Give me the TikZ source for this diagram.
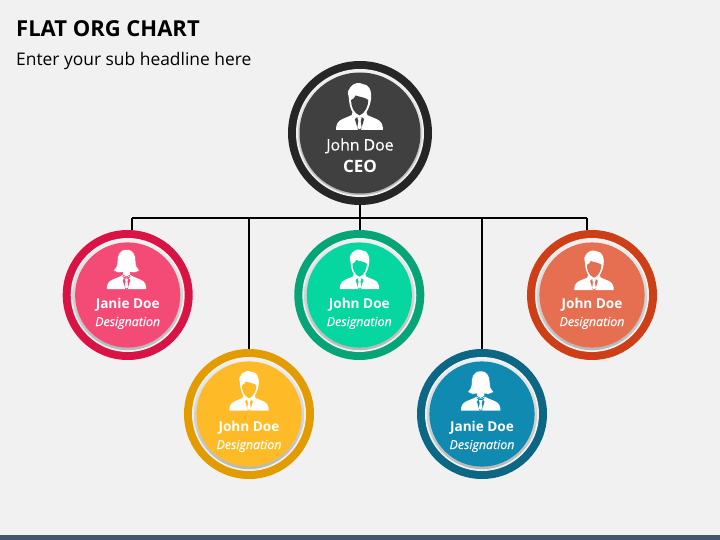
\documentclass[tikz,border=0pt]{standalone}
\usepackage{fontspec}
\setmainfont{Open Sans}
\definecolor{bgc}{HTML}{F1F1F1}
\definecolor{barc}{HTML}{44546A}
\definecolor{ceoR}{HTML}{262626}\definecolor{ceoF}{HTML}{404040}
\definecolor{pinkR}{HTML}{D91445}\definecolor{pinkF}{HTML}{F44B76}
\definecolor{yelR}{HTML}{E39C00}\definecolor{yelF}{HTML}{FFBB27}
\definecolor{grnR}{HTML}{05A578}\definecolor{grnF}{HTML}{06D6A0}
\definecolor{bluR}{HTML}{0B6784}\definecolor{bluF}{HTML}{118AB2}
\definecolor{orgR}{HTML}{CF3F17}\definecolor{orgF}{HTML}{E76F51}
\tikzset{
  x=1pt,y=-1pt,
  wire/.style={draw=black,line width=1.8pt},
  stem/.style={draw=black,line width=2.8pt},
  ringbig/.style={circle,inner sep=0pt,minimum size=136pt,line width=8pt},
  ringsmall/.style={circle,inner sep=0pt,minimum size=122pt,line width=8pt},
  nametext/.style={text=white,font=\fontsize{13.6}{16}\selectfont\bfseries,inner sep=0pt,anchor=base},
  desigtext/.style={text=white,font=\fontsize{12.4}{15}\selectfont\itshape\addfontfeature{FakeBold=0.2},inner sep=0pt,anchor=base},
  icon/.style={fill=white,draw=none}
}
% common bust: shoulders, open collar, tie; #1 is the disc colour
\newcommand{\bustshape}[1]{%
 \fill[icon] (-23.5,0) .. controls (-23.5,-5) and (-22,-9) .. (-17,-11) -- (-8,-14.8) -- (-5,-16.5) -- (0,-14) -- (5,-16.5) -- (8,-14.8) -- (17,-11) .. controls (22,-9) and (23.5,-5) .. (23.5,0) -- cycle;
 \fill[#1] (-5.2,-15.5) -- (-2.6,-12.6) -- (-4.6,-10.8) -- (-1.4,0) -- (1.4,0) -- (4.6,-10.8) -- (2.6,-12.6) -- (5.2,-15.5) -- (0,-13.6) -- cycle;
 \fill[icon] (-2.2,-12.4) -- (2.2,-12.4) -- (1.1,-9) -- (2.2,-2.4) -- (0,-0.6) -- (-2.2,-2.4) -- (-1.1,-9) -- cycle;}
% man: x, y, scale, disc colour
\newcommand{\manicon}[4]{%
\begin{scope}[shift={(#1,#2)},scale=#3]
 \bustshape{#4}
 \fill[icon] (-10.8,-33) .. controls (-12.5,-38) and (-11,-41) .. (-9,-43) .. controls (-6,-47) and (0,-48) .. (3,-46) .. controls (9,-46) and (12.5,-40) .. (11.5,-31) .. controls (11,-26) and (9,-21) .. (7,-18) -- (8,-14) -- (0,-12) -- (-8,-14) -- (-7,-18) .. controls (-9,-21) and (-10.5,-27) .. (-10.8,-33) -- cycle;
 \fill[#4] (-8.4,-30) .. controls (-6,-31) and (-4.5,-32.5) .. (-4,-34.5) .. controls (0,-33) and (5,-33) .. (8.8,-30) .. controls (8.8,-24) and (5.5,-16.5) .. (0,-14.6) .. controls (-5.5,-16.5) and (-8.8,-24) .. (-8.4,-30) -- cycle;
\end{scope}}
\newcommand{\womanicon}[4]{%
\begin{scope}[shift={(#1,#2)},scale=#3]
 \bustshape{#4}
 \fill[icon,draw=#4,line width=.45pt] (0,-47) .. controls (-9,-47) and (-11,-40) .. (-11,-33) .. controls (-11,-28) and (-12.5,-25) .. (-15.5,-22) .. controls (-11,-19) and (-7,-19) .. (-4.5,-20) -- (-4.5,-17) -- (0,-14.5) -- (4.5,-17) -- (4.5,-20) .. controls (7,-19) and (11,-19) .. (15.5,-22) .. controls (12.5,-25) and (11,-28) .. (11,-33) .. controls (11,-40) and (9,-47) .. (0,-47) -- cycle;
\end{scope}}
% disc stack: centre x, centre y, outer radius of band, fill radius, fill colour
\newcommand{\disc}[5]{%
 \fill[bgc] (#1,#2) circle[radius=#3];
 \shade[top color=black!6,bottom color=black!28] (#1,#2) circle[radius=#3-1.8];
 \fill[#5] (#1,#2) circle[radius=#4];}
% one staff circle: name, x, y, ring, fill, person name, baseline offset
\newcommand{\staff}[7]{%
 \node[ringsmall,draw=#4,fill=#4] (#1) at (#2,#3) {};
 \disc{#2}{#3}{57}{52.6}{#5}
 \node[nametext] (#1name) at (#2,#3+#7) {#6};
 \node[desigtext] (#1desig) at (#2,#3+#7+18) {Designation};
}
\begin{document}
\begin{tikzpicture}
\useasboundingbox (0,0) rectangle (720,540);
\fill[bgc] (0,0) rectangle (720,540);
\fill[barc] (0,535) rectangle (720,540);
\node[anchor=base west,inner sep=0pt,font=\fontsize{22}{26}\selectfont\bfseries] (title) at (16,37) {FLAT ORG CHART};
\node[anchor=base west,inner sep=0pt,font=\fontsize{17.4}{21}\selectfont] (sub) at (16,66) {Enter your sub headline here};
% bus
\coordinate (busL) at (132,218);
\coordinate (busR) at (587,218);
\coordinate (bA) at (249,218);
\coordinate (bB) at (482,218);
\draw[wire] (busL) -- (busR);
% people
\staff{p1}{127.7}{295}{pinkR}{pinkF}{Janie Doe}{13}
\staff{p2}{249}{414}{yelR}{yelF}{John Doe}{17}
\staff{p3}{359.3}{295}{grnR}{grnF}{John Doe}{13}
\staff{p4}{482}{414}{bluR}{bluF}{Janie Doe}{17}
\staff{p5}{592}{295}{orgR}{orgF}{John Doe}{13}
\womanicon{126.5}{289}{0.84}{pinkF}
\manicon{249}{410.5}{0.84}{yelF}
\manicon{359.5}{289}{0.84}{grnF}
\womanicon{480.7}{410.5}{0.84}{bluF}
\manicon{594}{290}{0.84}{orgF}
% ceo
\node[ringbig,draw=ceoR,fill=ceoR] (ceo) at (360,133) {};
\disc{360}{133}{64}{60.5}{ceoF}
\manicon{359.5}{130}{1}{ceoF}
\node[inner sep=0pt,text=white,anchor=base,font=\fontsize{15.8}{19}\selectfont\addfontfeature{FakeBold=0.3}] (ceoname) at (360,150.5) {John Doe};
\node[inner sep=0pt,text=white,anchor=base,font=\fontsize{17}{20}\selectfont\bfseries] (ceotitle) at (360,172.5) {CEO};
% connectors
\draw[wire] (busL) -- (busL |- p1.north);
\draw[wire] (bA) -- (p2.north);
\draw[wire] (bB) -- (p4.north);
\draw[wire] (busR) -- (busR |- p5.north);
\draw[stem] (ceo.south) -- (ceo.south |- p3.north);
\end{tikzpicture}
\end{document}
